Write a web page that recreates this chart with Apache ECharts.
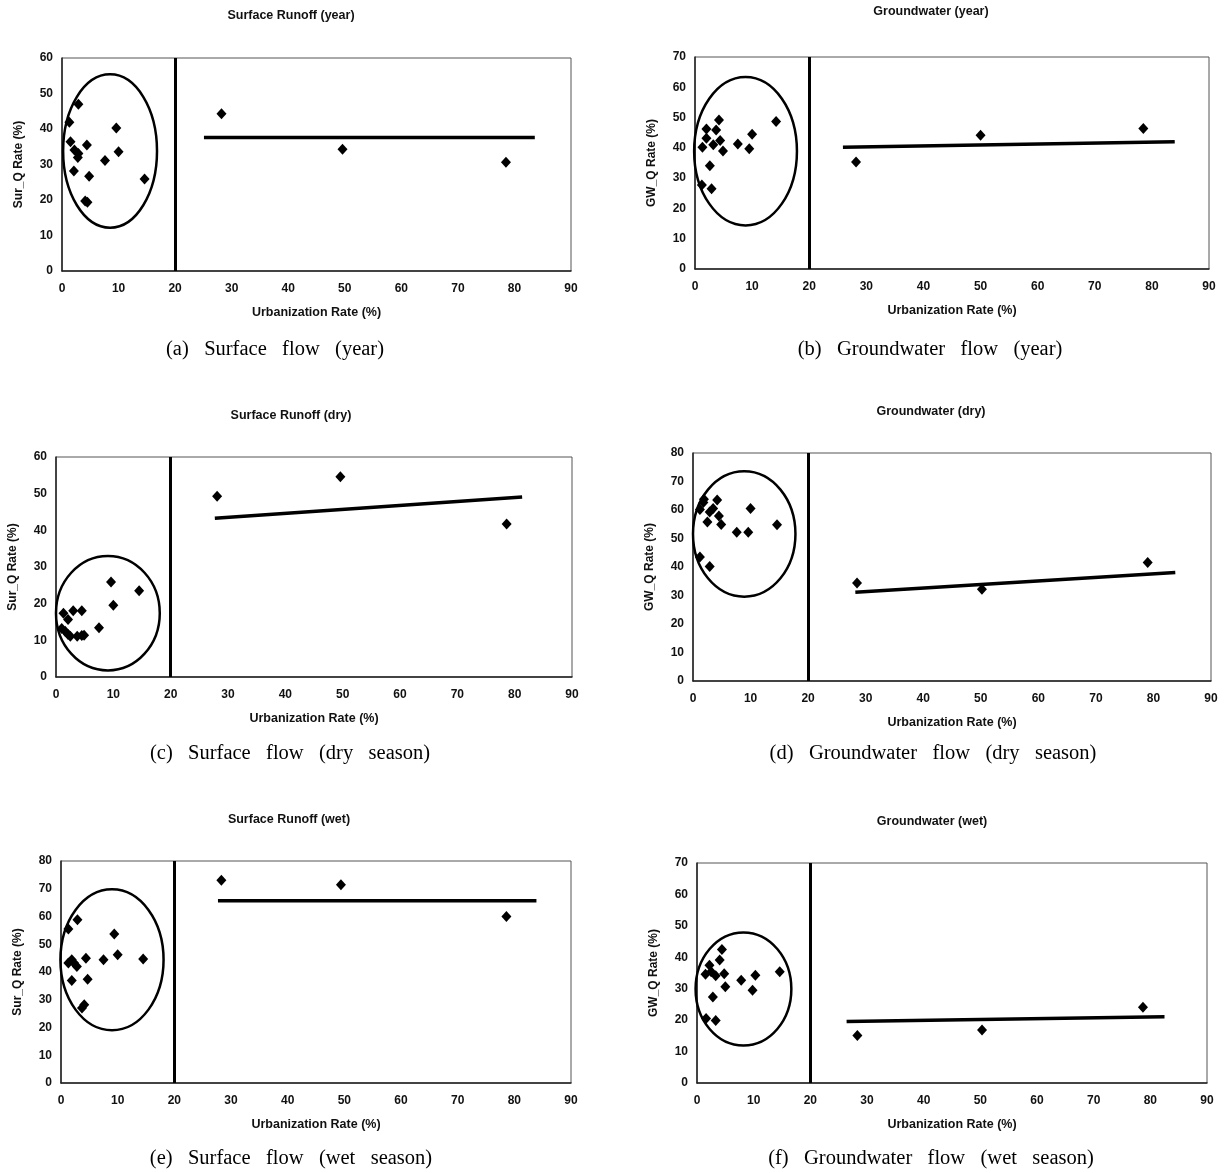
<!DOCTYPE html>
<html>
<head>
<meta charset="utf-8">
<script src="https://cdn.jsdelivr.net/npm/echarts@6/dist/echarts.min.js"></script>
<style>
html, body { margin: 0; padding: 0; background: #fff; }
#chart { width: 1224px; height: 1173px; }
</style>
</head>
<body>
<div id="chart"></div>
<script>
// x ticks shared by every panel
const xTicks = [0, 10, 20, 30, 40, 50, 60, 70, 80, 90]

// [urbanization %, rate %]
const surYearPts = [[1.3, 41.9], [2.9, 47.0], [1.5, 36.4], [2.2, 34.1], [2.9, 33.1], [2.8, 32.0], [2.1, 28.2], [4.4, 35.5], [4.8, 26.7], [4.1, 19.7], [4.5, 19.4], [7.6, 31.1], [9.6, 40.3], [10.0, 33.6], [14.6, 25.9], [28.2, 44.3], [49.6, 34.3], [78.5, 30.6]]
const gwYearPts = [[1.3, 40.2], [2.0, 46.2], [2.0, 43.2], [2.6, 34.1], [2.9, 26.5], [1.2, 27.7], [3.2, 41.0], [3.7, 45.9], [4.2, 49.2], [4.4, 42.4], [4.9, 39.0], [7.5, 41.3], [9.5, 39.7], [10.0, 44.5], [14.2, 48.7], [28.2, 35.3], [50.0, 44.2], [78.5, 46.4]]
const surDryPts = [[1.3, 17.4], [2.1, 15.7], [1.0, 13.2], [1.6, 12.5], [2.1, 11.6], [2.5, 11.1], [3.0, 18.1], [4.5, 18.1], [3.7, 11.1], [4.5, 11.3], [4.9, 11.4], [7.5, 13.4], [9.6, 25.9], [10.0, 19.6], [14.5, 23.5], [28.1, 49.3], [49.6, 54.6], [78.6, 41.7]]
const gwDryPts = [[1.2, 60.2], [1.8, 62.6], [1.9, 63.8], [2.5, 55.8], [2.9, 59.3], [3.5, 60.5], [4.2, 63.5], [4.5, 57.9], [4.9, 54.9], [7.6, 52.2], [9.6, 52.2], [10.0, 60.5], [14.6, 54.8], [1.2, 43.5], [2.9, 40.2], [28.5, 34.4], [50.2, 32.2], [79.0, 41.6]]
const surWetPts = [[1.3, 55.5], [2.9, 58.8], [1.3, 43.2], [1.9, 44.4], [2.3, 43.2], [2.8, 42.0], [1.9, 36.9], [4.4, 45.0], [4.7, 37.4], [4.1, 28.2], [3.7, 27.0], [7.5, 44.4], [9.4, 53.7], [10.0, 46.2], [14.5, 44.7], [28.3, 73.1], [49.4, 71.4], [78.6, 60.0]]
const gwWetPts = [[1.6, 20.5], [3.3, 19.9], [1.5, 34.6], [2.2, 37.5], [2.5, 35.4], [3.3, 34.1], [2.8, 27.4], [4.0, 39.1], [4.4, 42.5], [4.8, 34.8], [5.0, 30.6], [7.8, 32.7], [9.8, 29.5], [10.3, 34.3], [14.6, 35.4], [28.3, 15.1], [50.3, 16.9], [78.7, 24.1]]

// trend line end points
const surYearTrend = [[25.1, 37.6], [83.6, 37.6]]
const gwYearTrend = [[25.9, 40.2], [84.0, 42.0]]
const surDryTrend = [[27.7, 43.3], [81.3, 49.1]]
const gwDryTrend = [[28.2, 31.1], [83.8, 38.1]]
const surWetTrend = [[27.7, 65.7], [83.9, 65.7]]
const gwWetTrend = [[26.4, 19.6], [82.5, 21.1]]

// rural cluster ellipse: [centre x, centre y, radius x, radius y]
const surYearEllipse = [8.5, 33.8, 8.3, 21.6]
const gwYearEllipse = [8.85, 38.9, 9.0, 24.5]
const surDryEllipse = [9.05, 17.4, 9.05, 15.6]
const gwDryEllipse = [8.9, 51.6, 8.9, 22.0]
const surWetEllipse = [9.0, 44.4, 9.1, 25.4]
const gwWetEllipse = [8.2, 29.9, 8.45, 18.0]

const boundary = 20
const yMaxes = [60, 70, 60, 80, 80, 70]

const chartTitles = ['Surface Runoff (year)', 'Groundwater (year)', 'Surface Runoff (dry)', 'Groundwater (dry)', 'Surface Runoff (wet)', 'Groundwater (wet)']
const captions = ['(a)   Surface   flow   (year)', '(b)   Groundwater   flow   (year)', '(c)   Surface   flow   (dry   season)', '(d)   Groundwater   flow   (dry   season)', '(e)   Surface   flow   (wet   season)', '(f)   Groundwater   flow   (wet   season)']
const yNames = ['Sur_Q Rate (%)', 'GW_Q Rate (%)', 'Sur_Q Rate (%)', 'GW_Q Rate (%)', 'Sur_Q Rate (%)', 'GW_Q Rate (%)']
const xName = 'Urbanization Rate (%)'

const pointSets = [surYearPts, gwYearPts, surDryPts, gwDryPts, surWetPts, gwWetPts]
const trendSets = [surYearTrend, gwYearTrend, surDryTrend, gwDryTrend, surWetTrend, gwWetTrend]
const ellipseSets = [surYearEllipse, gwYearEllipse, surDryEllipse, gwDryEllipse, surWetEllipse, gwWetEllipse]

// layout (pixels)
const grids = [
  { left: 62, top: 58, width: 509, height: 213 },
  { left: 695, top: 57, width: 514, height: 212 },
  { left: 56, top: 457, width: 516, height: 220 },
  { left: 693, top: 453, width: 518, height: 228 },
  { left: 61, top: 861, width: 510, height: 222 },
  { left: 697, top: 863, width: 510, height: 220 }
]
const titlePos = [[291, 16], [931, 12], [291, 416], [931, 412], [289, 820], [932, 822]]
const captionPos = [[275, 350], [930, 350], [290, 754], [933, 754], [291, 1159], [931, 1159]]

const sans = '"Liberation Sans", Arial, sans-serif'
const serif = '"Liberation Serif", "Times New Roman", serif'
const labelFont = { fontFamily: sans, fontSize: 12, fontWeight: 'bold', color: '#111' }

const chart = echarts.init(document.getElementById('chart'))

const xAxes = grids.map((g, i) => ({
  type: 'value',
  gridIndex: i,
  min: xTicks[0],
  max: xTicks[xTicks.length - 1],
  interval: 10,
  name: xName,
  nameLocation: 'middle',
  nameGap: 35,
  nameTextStyle: { fontFamily: sans, fontSize: 12.5, fontWeight: 'bold', color: '#111' },
  axisLine: { lineStyle: { color: '#222', width: 1.5 } },
  axisTick: { show: false },
  splitLine: { show: false },
  axisLabel: Object.assign({ margin: 12 }, labelFont)
}))

const yAxes = grids.map((g, i) => ({
  type: 'value',
  gridIndex: i,
  min: 0,
  max: yMaxes[i],
  interval: 10,
  name: yNames[i],
  nameLocation: 'middle',
  nameGap: 37,
  nameTextStyle: { fontFamily: sans, fontSize: 12, fontWeight: 'bold', color: '#111' },
  axisLine: { show: true, lineStyle: { color: '#222', width: 1.5 } },
  axisTick: { show: false },
  splitLine: { show: false },
  axisLabel: Object.assign({ margin: 9 }, labelFont)
}))

function ellipseItem(params, api) {
  const c = api.coord([api.value(0), api.value(1)])
  const s = api.size([api.value(2), api.value(3)])
  return {
    type: 'ellipse',
    shape: { cx: c[0], cy: c[1], rx: s[0], ry: s[1] },
    style: { fill: 'none', stroke: '#000', lineWidth: 2.5 }
  }
}

const series = []
grids.forEach((g, i) => {
  series.push({
    type: 'scatter',
    xAxisIndex: i,
    yAxisIndex: i,
    symbol: 'diamond',
    symbolSize: [10, 11],
    itemStyle: { color: '#000', opacity: 1 },
    data: pointSets[i],
    markLine: {
      silent: true,
      symbol: 'none',
      label: { show: false },
      lineStyle: { color: '#000', width: 3, type: 'solid', opacity: 1 },
      data: [{ xAxis: boundary }]
    },
    z: 3
  })
  series.push({
    type: 'line',
    xAxisIndex: i,
    yAxisIndex: i,
    showSymbol: false,
    lineStyle: { color: '#000', width: 3.5 },
    data: trendSets[i],
    z: 2
  })
  series.push({
    type: 'custom',
    xAxisIndex: i,
    yAxisIndex: i,
    clip: false,
    renderItem: ellipseItem,
    encode: { x: 0, y: 1 },
    data: [ellipseSets[i]],
    z: 2
  })
})

const graphics = []
chartTitles.forEach((t, i) => {
  graphics.push({
    type: 'text',
    x: titlePos[i][0],
    y: titlePos[i][1],
    style: { text: t, textAlign: 'center', textVerticalAlign: 'middle', font: 'bold 12.5px ' + sans, fill: '#111' }
  })
})
captions.forEach((t, i) => {
  graphics.push({
    type: 'text',
    x: captionPos[i][0],
    y: captionPos[i][1],
    style: { text: t, textAlign: 'center', textVerticalAlign: 'middle', font: '20.5px ' + serif, fill: '#000' }
  })
})

chart.setOption({
  animation: false,
  backgroundColor: '#fff',
  grid: grids.map(g => Object.assign({ show: true, borderColor: '#555', borderWidth: 1, backgroundColor: 'transparent' }, g)),
  xAxis: xAxes,
  yAxis: yAxes,
  series: series,
  graphic: graphics
})
</script>
</body>
</html>
